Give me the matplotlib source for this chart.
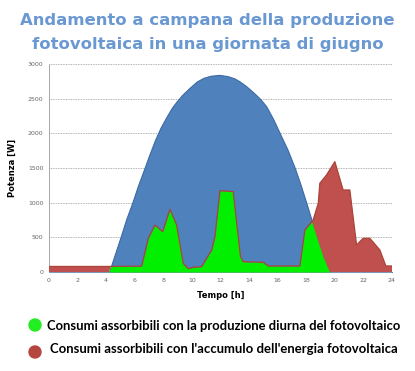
import numpy as np
import matplotlib
matplotlib.use("Agg")
import matplotlib.pyplot as plt
from matplotlib import font_manager
from matplotlib.patches import Ellipse

# ---- data ----
prod_hours = [0, 4.2, 4.6, 5.0, 5.4, 5.83, 6.2, 6.63, 7.0, 7.41, 7.8, 8.2, 8.6,
              8.93, 9.3, 9.8, 10.33, 10.8, 11.3, 11.9, 12.5, 13.0, 13.36, 13.8,
              14.3, 14.76, 15.2, 15.7, 16.15, 16.7, 17.2, 17.6, 18.0, 18.4,
              18.83, 19.2, 19.65, 24]
prod_watts = [0, 0, 250, 500, 760, 1000, 1230, 1470, 1680, 1900, 2080, 2230, 2370,
              2460, 2550, 2650, 2746, 2800, 2830, 2843, 2825, 2790, 2746, 2680,
              2590, 2500, 2390, 2200, 2000, 1760, 1500, 1260, 1000, 730,
              450, 220, 0, 0]

cons_hours = [0, 4.3, 6.48, 6.95, 7.41, 7.95, 8.46, 8.93, 9.39, 9.74, 10.09, 10.68,
              11.38, 11.61, 11.96, 12.89, 13.4, 13.59, 14.99, 15.34, 17.55, 17.9,
              18.48, 18.84, 18.95, 19.42, 20.0, 20.58, 21.05, 21.52, 21.98, 22.45,
              23.15, 23.57, 24]
cons_watts = [80, 80, 85, 486, 678, 582, 905, 678, 125, 48, 68, 77,
              318, 510, 1173, 1160, 221, 149, 140, 87, 87, 606,
              750, 991, 1280, 1400, 1592, 1183, 1183, 390, 486, 486,
              318, 87, 87]

title_lines = ["Andamento a campana della produzione", "fotovoltaica in una giornata di giugno"]
legend_labels = ["Consumi assorbibili con la produzione diurna del fotovoltaico",
                 "Consumi assorbibili con l'accumulo dell'energia fotovoltaica"]
x_ticks = list(range(0, 25, 2))
y_ticks = list(range(0, 3001, 500))

W, H = 415, 371
fig = plt.figure(figsize=(W / 100, H / 100), dpi=100)
ax = fig.add_axes([49 / W, 1 - 272 / H, (392 - 49) / W, (272 - 64) / H])

grid_x = np.union1d(np.linspace(0, 24, 2401), np.union1d(prod_hours, cons_hours))
p = np.interp(grid_x, prod_hours, prod_watts)
c = np.interp(grid_x, cons_hours, cons_watts)
low = np.minimum(p, c)

ax.fill_between(prod_hours, 0, prod_watts, color="#4f81bd", edgecolor="#3b6aa3", lw=0.8, zorder=2)
ax.fill_between(grid_x, 0, low, color="#00f000", lw=0, zorder=3)
ax.fill_between(grid_x, low, c, where=c > low + 0.01, color="#c0504d", lw=0, zorder=3, interpolate=True)
ax.plot(cons_hours, cons_watts, color="#a94438", lw=0.9, zorder=4)

ax.set_xlim(0, 24)
ax.set_ylim(0, 3000)
ax.set_xticks(x_ticks)
ax.set_yticks(y_ticks)
ax.tick_params(length=0, labelsize=4.5, labelcolor="#666666", pad=4)
ax.yaxis.grid(True, ls=(0, (1, 1)), color="#9a9a9a", lw=0.6)
ax.set_axisbelow(True)
for s in ["top", "right"]:
    ax.spines[s].set_visible(False)
ax.spines["left"].set_linestyle((0, (1, 1)))
ax.spines["left"].set_color("#9a9a9a")
ax.spines["left"].set_linewidth(0.6)
ax.spines["bottom"].set_linestyle((0, (1, 1)))
ax.spines["bottom"].set_color("#8aa0c0")
ax.spines["bottom"].set_linewidth(0.6)

ax.set_ylabel("Potenza [W]", fontsize=6, fontweight="bold", labelpad=8)
ax.set_xlabel("Tempo [h]", fontsize=6, fontweight="bold", labelpad=6)

renderer = fig.canvas.get_renderer()


def fit_text(t, target_px):
    ext = t.get_window_extent(renderer)
    t.set_fontsize(t.get_fontsize() * target_px / ext.width)


t1 = fig.text(0.5, 1 - 20 / H, title_lines[0], ha="center", va="center", fontsize=12,
              fontweight="bold", color="#6a98d2")
t2 = fig.text(0.5, 1 - 45 / H, title_lines[1], ha="center", va="center", fontsize=12,
              fontweight="bold", color="#6a98d2")
fit_text(t1, 372)
t2.set_fontsize(t1.get_fontsize())

names = {f.name for f in font_manager.fontManager.ttflist}
leg_font = "Lato" if "Lato" in names else "DejaVu Sans"

fig.patches.append(Ellipse((35 / W, 1 - 325 / H), 12 / W, 12 / H,
                           transform=fig.transFigure, color="#22ee22", figure=fig))
fig.patches.append(Ellipse((35 / W, 1 - 352 / H), 12 / W, 12 / H,
                           transform=fig.transFigure, color="#b5453f", figure=fig))
l1 = fig.text(47 / W, 1 - 326 / H, legend_labels[0], ha="left", va="center", fontsize=10,
              family=leg_font, fontweight="bold")
l2 = fig.text(50 / W, 1 - 349 / H, legend_labels[1], ha="left", va="center", fontsize=10,
              family=leg_font, fontweight="bold")
fit_text(l1, 353)
fit_text(l2, 346)

fig.savefig("out.png", dpi=100)
